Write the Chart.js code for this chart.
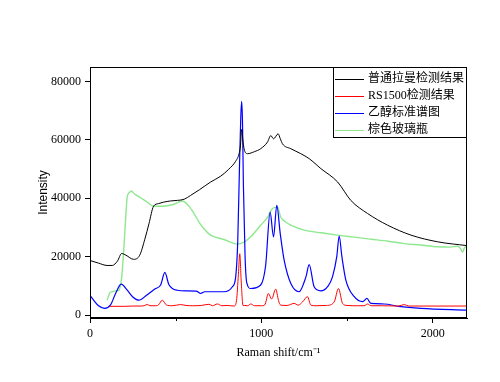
<!DOCTYPE html>
<html>
<head>
<meta charset="utf-8">
<script src="https://cdn.jsdelivr.net/npm/chart.js@4"></script>
<style>
  html, body { margin: 0; padding: 0; background: #fff; }
  #wrap { width: 500px; height: 382px; position: relative; }
</style>
</head>
<body>
<div id="wrap"><canvas id="c" width="500" height="382"></canvas></div>
<script>
// ---- data ----
const seriesNames = ['普通拉曼检测结果', 'RS1500检测结果', '乙醇标准谱图', '棕色玻璃瓶'];
const seriesColors = ['#000000', '#ff0000', '#0000ff', '#8ee88e'];

const blackX = [0, 50, 100, 130, 160, 185, 210, 255, 290, 320, 344, 371, 400, 430, 470, 510, 550, 587, 640, 704, 763, 810, 850, 870, 878, 885, 892, 899, 919, 960, 996, 1036, 1055, 1071, 1098, 1110, 1123, 1172, 1230, 1279, 1347, 1445, 1522, 1620, 1737, 1873, 2029, 2200];
const blackY = [18700, 17800, 17000, 17000, 18500, 21100, 20500, 19100, 20500, 26000, 31300, 37300, 38200, 38700, 39100, 39300, 39700, 41000, 43000, 45600, 47600, 50000, 52700, 55300, 58000, 63600, 60000, 57000, 55300, 56000, 57000, 59300, 61500, 60400, 62100, 60500, 58700, 57000, 55300, 53600, 50200, 45600, 39300, 34800, 30800, 27400, 25100, 23800];

const redX = [115, 200, 250, 300, 320, 334, 350, 380, 400, 422, 445, 480, 529, 560, 600, 650, 694, 715, 743, 770, 800, 841, 855, 866, 874, 882, 893, 903, 920, 938, 960, 1000, 1020, 1041, 1060, 1084, 1100, 1113, 1150, 1191, 1215, 1240, 1269, 1289, 1320, 1380, 1425, 1450, 1474, 1500, 1560, 1600, 1620, 1640, 1700, 1800, 1834, 1860, 2200];
const redY = [3000, 3000, 3100, 3100, 3300, 3650, 3200, 3200, 3500, 5100, 3500, 3200, 3600, 3300, 3200, 3300, 3700, 3200, 3800, 3200, 3300, 3100, 5000, 14000, 21000, 12000, 3300, 3300, 3200, 3800, 3200, 3200, 3500, 7400, 5500, 8900, 5000, 3400, 3300, 4000, 3400, 4500, 6300, 3400, 3200, 3300, 4500, 9100, 4000, 3300, 3200, 3200, 3800, 3200, 3200, 3100, 3600, 3100, 3100];

const blueX = [0, 20, 50, 85, 120, 150, 182, 215, 250, 285, 330, 380, 412, 437, 460, 510, 560, 620, 646, 670, 720, 782, 831, 850, 862, 872, 880, 885, 890, 895, 905, 915, 938, 996, 1025, 1051, 1071, 1090, 1110, 1133, 1172, 1220, 1260, 1279, 1308, 1347, 1390, 1415, 1440, 1454, 1470, 1493, 1542, 1591, 1616, 1639, 1717, 1800, 1932, 2200];
const blueY = [6800, 5200, 3200, 2300, 3500, 7500, 10600, 8700, 6200, 5100, 6800, 9000, 10300, 14600, 10500, 8500, 8300, 8200, 7400, 8000, 8000, 8000, 9700, 13000, 25000, 50000, 68000, 73200, 66000, 45000, 20000, 11000, 9100, 10300, 17000, 35300, 26800, 37600, 28000, 18800, 10800, 8000, 13100, 17300, 9700, 8300, 10000, 13100, 20000, 27100, 20000, 12000, 6300, 4600, 5700, 4000, 3800, 3000, 2300, 1700];

const greenX = [100, 115, 130, 150, 168, 185, 198, 210, 217, 230, 241, 260, 295, 334, 371, 431, 480, 539, 575, 607, 640, 665, 704, 782, 860, 900, 938, 996, 1036, 1065, 1094, 1113, 1140, 1172, 1250, 1350, 1445, 1540, 1639, 1740, 1834, 1930, 2029, 2100, 2146, 2160, 2175, 2185, 2200];
const greenY = [5100, 7500, 8000, 8300, 8500, 13000, 23300, 35000, 40400, 42000, 42500, 41500, 40200, 38700, 37300, 37300, 37800, 39100, 37500, 34800, 31500, 29600, 27400, 25900, 24300, 25000, 26800, 30800, 33500, 36500, 37000, 33600, 32000, 30800, 29100, 28200, 27400, 26700, 26000, 25300, 24500, 24000, 23400, 23300, 23600, 23000, 21600, 23000, 23600];

const xTicks = [0, 1000, 2000];
const xMinorTicks = [500, 1500];
const yTicks = [0, 20000, 40000, 60000, 80000];
const xTitle = 'Raman shift/cm\u207B\u00B9';
const yTitle = 'Intensity';

// ---- build ----
const seriesX = [blackX, redX, blueX, greenX];
const seriesY = [blackY, redY, blueY, greenY];
const seriesWidths = [1, 1, 1.2, 1.4];
const datasets = seriesNames.map((name, i) => ({
  label: name,
  data: seriesX[i].map((x, j) => ({x: x, y: seriesY[i][j]})),
  borderColor: seriesColors[i],
  backgroundColor: seriesColors[i],
  borderWidth: seriesWidths[i],
  pointRadius: 0,
  cubicInterpolationMode: 'monotone',
  fill: false
}));

const serif = "'Liberation Serif', 'Times New Roman', serif";
const legendFont = "12px 'Liberation Serif', 'Noto Sans CJK SC', serif";

const framePlugin = {
  id: 'frame',
  afterDraw(chart) {
    const {ctx, chartArea: a, scales} = chart;
    ctx.save();
    ctx.strokeStyle = '#000';
    ctx.lineWidth = 1;
    ctx.strokeRect(Math.round(a.left) + 0.5, Math.round(a.top) + 0.5, Math.round(a.right - a.left) - 1, Math.round(a.bottom - a.top) - 1);
    // minor x ticks
    ctx.beginPath();
    xMinorTicks.forEach(v => {
      const px = Math.round(scales.x.getPixelForValue(v)) + 0.5;
      ctx.moveTo(px, a.bottom);
      ctx.lineTo(px, a.bottom + 3);
    });
    ctx.stroke();
    // legend box
    const lx = 333, ly = 67, lw = Math.round(a.right) - 333, lh = 71;
    ctx.fillStyle = '#fff';
    ctx.fillRect(lx, ly, lw, lh);
    ctx.strokeRect(lx + 0.5, ly + 0.5, lw - 1, lh - 1);
    ctx.font = legendFont;
    ctx.textBaseline = 'middle';
    ctx.textAlign = 'left';
    const rows = [79, 96, 113, 130];
    seriesNames.forEach((name, i) => {
      const y = rows[i] + 0.5;
      ctx.strokeStyle = seriesColors[i];
      ctx.beginPath();
      ctx.moveTo(335, y);
      ctx.lineTo(364, y);
      ctx.stroke();
      ctx.fillStyle = '#000';
      ctx.fillText(name, 368, rows[i]);
    });
    ctx.restore();
  }
};

new Chart(document.getElementById('c'), {
  type: 'line',
  data: { datasets },
  options: {
    responsive: false,
    animation: false,
    events: [],
    layout: { padding: { top: 67, right: 33, bottom: 0, left: 0 } },
    plugins: { legend: { display: false }, tooltip: { enabled: false } },
    scales: {
      x: {
        type: 'linear',
        min: 0, max: 2200,
        afterBuildTicks: s => { s.ticks = xTicks.map(v => ({value: v})); },
        afterFit: s => { s.height = 64; },
        ticks: { color: '#000', font: { family: serif, size: 12 }, padding: 4, maxRotation: 0,
                 callback: v => String(v) },
        grid: { drawOnChartArea: false, drawTicks: true, tickLength: 5, color: '#000', tickColor: '#000' },
        border: { display: true, color: '#000', width: 1 },
        title: { display: true, text: xTitle, color: '#000', font: { family: serif, size: 12 }, padding: { top: 0, bottom: 22 } }
      },
      y: {
        type: 'linear',
        min: -1000, max: 85000,
        afterBuildTicks: s => { s.ticks = yTicks.map(v => ({value: v})); },
        afterFit: s => { s.width = 90; },
        ticks: { color: '#000', font: { family: serif, size: 12 }, padding: 4, callback: v => String(v) },
        grid: { drawOnChartArea: false, drawTicks: true, tickLength: 5, color: '#000', tickColor: '#000' },
        border: { display: true, color: '#000', width: 1 },
        title: { display: true, text: yTitle, color: '#000', font: { family: "'Liberation Sans', Arial, sans-serif", size: 12 }, padding: { top: 36, bottom: 0 } }
      }
    }
  },
  plugins: [framePlugin]
});
</script>
</body>
</html>
